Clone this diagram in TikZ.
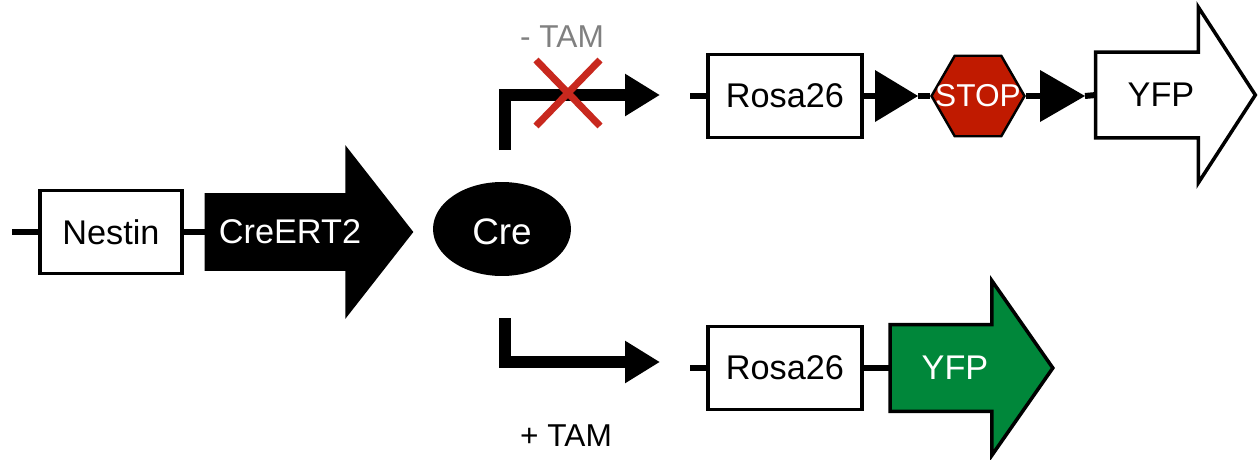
\documentclass[tikz,border=0pt]{standalone}
\usepackage{fontspec}
\setmainfont{Liberation Sans}
\usepackage{xcolor}
\usepackage{tikz}
\usetikzlibrary{arrows.meta, calc, shapes.geometric, backgrounds}
\definecolor{stopred}{HTML}{C01A00}
\definecolor{yfpgreen}{HTML}{00873A}
\definecolor{crossred}{HTML}{C8281E}
\definecolor{tamgray}{HTML}{808080}

\begin{document}
\begin{tikzpicture}[
        x=0.02cm, y=-0.02cm,
        font=\fontsize{19.5}{23}\selectfont,
        genebox/.style={
            draw=black,
            fill=white,
            line width=2pt,
            minimum width=3.08cm,
            minimum height=1.66cm,
            inner sep=0pt
        },
        arrowbody/.style={minimum height=1.7cm, inner sep=0pt},
        arrowtext/.style={xshift=0.28cm},
        outline/.style={line width=2pt, line join=miter},
        stopbox/.style={
            regular polygon,
            regular polygon sides=6,
            minimum size=1.86cm,
            inner sep=0pt,
            draw=black,
            line width=1.4pt,
            fill=stopred
        },
        wire/.style={line width=3.4pt, draw=black},
        bentarrow/.style={line width=6.8pt, -{Triangle[length=0.7cm, width=0.8cm]}},
        cross/.style={line width=4pt, draw=crossred},
        tamlabel/.style={font=\fontsize{18}{21}\selectfont}
    ]
        \useasboundingbox (0,0) rectangle (1259,460);

        % driver line
        \node[genebox, minimum width=2.84cm] (nestin) at (111,232) {Nestin};
        \node[arrowbody, minimum width=2.8cm, minimum height=1.54cm,
              label={[text=white, xshift=0.3cm]center:CreERT2}] (creert) at (275,232) {};
        \node[ellipse, fill=black, minimum width=2.76cm, minimum height=1.88cm, inner sep=0pt,
              label={[text=white, yshift=-0.06cm, font=\fontsize{21}{25}\selectfont]center:Cre}] (cre) at (502,229) {};

        \coordinate (leftend) at (12,232);
        \draw[wire] (leftend) -- (nestin.west);
        \draw[wire] (nestin.east) -- (creert.west);

        % - TAM / + TAM
        \coordinate (offstart) at (505,150);
        \coordinate (offend) at (660,95);
        \coordinate (onstart) at (505,318);
        \coordinate (onend) at (660,362);
        \draw[bentarrow] (offstart) |- (offend);
        \draw[bentarrow] (onstart) |- (onend);

        \coordinate (xcenter) at (568,93);
        \draw[cross] ($(xcenter)+(-32,-33)$) -- ($(xcenter)+(32,33)$);
        \draw[cross] ($(xcenter)+(32,-33)$) -- ($(xcenter)+(-32,33)$);

        \node[tamlabel, text=tamgray] (minustam) at (562,37) {- TAM};
        \node[tamlabel] (plustam) at (566,436) {+ TAM};

        % reporter, no recombination
        \node[genebox] (rosaoff) at (785,96) {Rosa26};
        \node[stopbox, label={[text=white, font=\fontsize{18}{21}\selectfont]center:STOP}] (stop) at (978,96) {};
        \node[arrowbody, minimum width=2.04cm,
              label={[arrowtext]center:YFP}] (yfpoff) at (1147,95) {};

        \coordinate (loxa) at (875,96);
        \coordinate (loxatip) at (918,96);
        \coordinate (loxb) at (1040,96);
        \coordinate (loxbtip) at (1085,96);
        \fill (loxa) -- ++(0,-26) -- (loxatip) -- ($(loxa)+(0,26)$) -- cycle;
        \fill (loxb) -- ++(0,-26) -- (loxbtip) -- ($(loxb)+(0,26)$) -- cycle;

        \coordinate (offwire) at (690,96);
        \draw[wire] (offwire) -- (rosaoff.west);
        \draw[wire] (rosaoff.east) -- (loxa);
        \draw[wire] (loxatip) -- (stop.west);
        \draw[wire] (stop.east) -- (loxb);
        \draw[wire] (loxbtip) -- (yfpoff.west);

        % reporter, recombined
        \node[genebox] (rosaon) at (785,368) {Rosa26};
        \node[arrowbody, minimum width=2.02cm, minimum height=1.72cm,
              label={[arrowtext, text=white]center:YFP}] (yfpon) at (941,368) {};

        \coordinate (onwire) at (690,368);
        \draw[wire] (onwire) -- (rosaon.west);
        \draw[wire] (rosaon.east) -- (yfpon.west);

        % arrow outlines
        \begin{scope}[on background layer]
            \fill (creert.north west) -- (creert.north east) -- ++(0,-48)
                -- ($(creert.east)+(68,0)$) -- ($(creert.south east)+(0,48)$)
                -- (creert.south east) -- (creert.south west) -- cycle;
            \filldraw[outline, fill=white] (yfpoff.north west) -- (yfpoff.north east) -- ++(0,-45)
                -- ($(yfpoff.east)+(57,0)$) -- ($(yfpoff.south east)+(0,45)$)
                -- (yfpoff.south east) -- (yfpoff.south west) -- cycle;
            \filldraw[outline, fill=yfpgreen] (yfpon.north west) -- (yfpon.north east) -- ++(0,-44)
                -- ($(yfpon.east)+(61,0)$) -- ($(yfpon.south east)+(0,44)$)
                -- (yfpon.south east) -- (yfpon.south west) -- cycle;
        \end{scope}
    \end{tikzpicture}
\end{document}
